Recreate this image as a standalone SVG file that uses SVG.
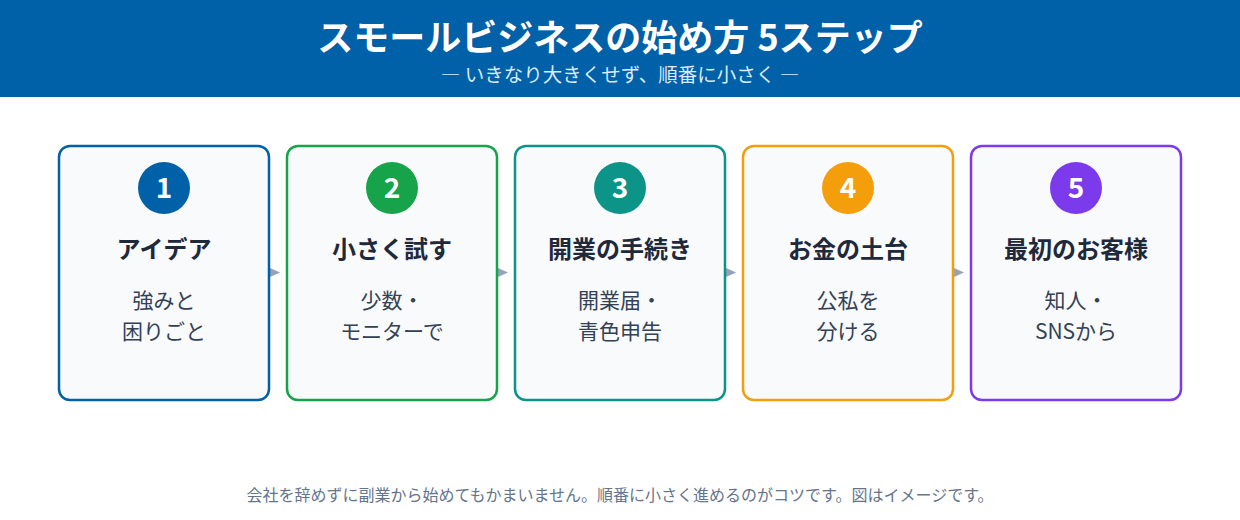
<svg xmlns="http://www.w3.org/2000/svg" width="1240" height="520" viewBox="0 0 1240 520">
<style>
text{font-family:"Noto Sans CJK JP","Noto Sans",sans-serif;text-anchor:middle}
.title{font-size:36px;font-weight:700;fill:#ffffff}
.sub{font-size:19.5px;fill:#dbeafe}
.box{fill:#f8fafc;stroke-width:2.5}
.num{font-size:28px;font-weight:700;fill:#ffffff}
.head{font-size:24px;font-weight:700;fill:#1e293b}
.desc{font-size:21px;fill:#334155}
.foot{font-size:16px;fill:#64748b}
.arr{fill:#94a3b8}
</style>
<rect x="0" y="0" width="1240" height="97" fill="#0060a8"/>
<text class="title" x="620" y="51">スモールビジネスの始め方 5ステップ</text>
<text class="sub" x="620" y="82">― いきなり大きくせず、順番に小さく ―</text>
<g id="connectors">
<polygon class="arr" points="270,268 280,272.5 270,277"/>
<polygon class="arr" points="498,268 508,272.5 498,277"/>
<polygon class="arr" points="726,268 736,272.5 726,277"/>
<polygon class="arr" points="954,268 964,272.5 954,277"/>
</g>
<g id="step1">
<rect class="box" x="59" y="146" width="210" height="254" rx="11" stroke="#0060a8"/>
<circle cx="164" cy="188" r="26" fill="#0060a8"/>
<text class="num" x="164" y="198">1</text>
<text class="head" x="164" y="258">アイデア</text>
<text class="desc" x="164" y="308">強みと</text>
<text class="desc" x="164" y="339">困りごと</text>
</g>
<g id="step2">
<rect class="box" x="287" y="146" width="210" height="254" rx="11" stroke="#16a34a"/>
<circle cx="392" cy="188" r="26" fill="#16a34a"/>
<text class="num" x="392" y="198">2</text>
<text class="head" x="392" y="258">小さく試す</text>
<text class="desc" x="392" y="308">少数・</text>
<text class="desc" x="392" y="339">モニターで</text>
</g>
<g id="step3">
<rect class="box" x="515" y="146" width="210" height="254" rx="11" stroke="#0d9488"/>
<circle cx="620" cy="188" r="26" fill="#0d9488"/>
<text class="num" x="620" y="198">3</text>
<text class="head" x="620" y="258">開業の手続き</text>
<text class="desc" x="620" y="308">開業届・</text>
<text class="desc" x="620" y="339">青色申告</text>
</g>
<g id="step4">
<rect class="box" x="743" y="146" width="210" height="254" rx="11" stroke="#f59e0b"/>
<circle cx="848" cy="188" r="26" fill="#f59e0b"/>
<text class="num" x="848" y="198">4</text>
<text class="head" x="848" y="258">お金の土台</text>
<text class="desc" x="848" y="308">公私を</text>
<text class="desc" x="848" y="339">分ける</text>
</g>
<g id="step5">
<rect class="box" x="971" y="146" width="210" height="254" rx="11" stroke="#7c3aed"/>
<circle cx="1076" cy="188" r="26" fill="#7c3aed"/>
<text class="num" x="1076" y="198">5</text>
<text class="head" x="1076" y="258">最初のお客様</text>
<text class="desc" x="1076" y="308">知人・</text>
<text class="desc" x="1076" y="339">SNSから</text>
</g>
<text class="foot" x="620" y="501">会社を辞めずに副業から始めてもかまいません。順番に小さく進めるのがコツです。図はイメージです。</text>
</svg>
